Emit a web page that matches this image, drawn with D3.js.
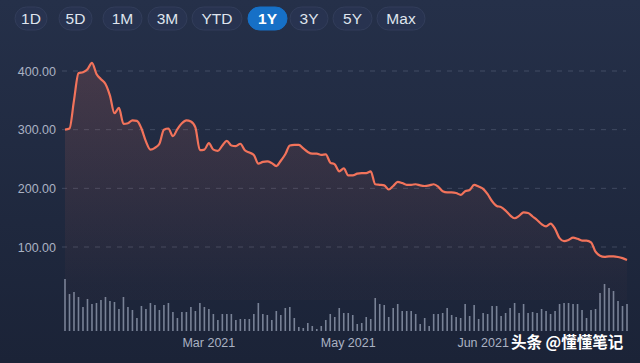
<!DOCTYPE html>
<html>
<head>
<meta charset="utf-8">
<script src="https://cdn.jsdelivr.net/npm/d3@7"></script>
<style>
  html, body { margin: 0; padding: 0; background: #1f283c; }
  svg { display: block; }
</style>
</head>
<body>
<svg id="chart" width="640" height="363"></svg>
<script>
// range buttons across the top
let ranges = ["1D", "5D", "1M", "3M", "YTD", "1Y", "3Y", "5Y", "Max"];
let activeRange = "1Y";

// closing prices, one per bar
let prices = [
  300, 302, 350, 396, 398, 403, 414, 395, 386, 378,
  358, 328, 337, 310, 311, 316, 315, 302, 280, 266,
  269, 276, 300, 302, 289, 301, 311, 316, 314, 304,
  265, 266, 277, 266, 264, 273, 281, 273, 272, 276,
  265, 261, 257, 242, 245, 246, 243, 238, 247, 258,
  273, 274, 274, 268, 262, 259, 259, 257, 258, 244,
  241, 229, 234, 222, 222, 225, 226, 226, 229, 207,
  206, 205, 198, 204, 211, 209, 206, 206, 207, 205,
  204, 205, 207, 203, 195, 193, 193, 192, 189, 195,
  197, 206, 203, 199, 190, 178, 170, 168, 162, 154,
  149, 153, 159, 158, 152, 146, 139, 135, 140, 131,
  115, 110, 112, 116, 114, 111, 111, 108, 92, 85,
  83, 84, 84, 83, 81, 78
];

// traded volume per bar (relative units)
let volumes = [
  52, 37, 39, 34, 24, 32, 27, 28, 31, 34,
  30, 29, 22, 34, 24, 21, 13, 25, 22, 28,
  26, 21, 26, 28, 19, 13, 19, 19, 24, 20,
  28, 24, 22, 17, 11, 17, 17, 17, 11, 12,
  12, 12, 17, 28, 17, 16, 11, 20, 16, 23,
  24, 13, 4, 3, 8, 5, 2, 5, 11, 17,
  14, 23, 18, 18, 16, 7, 8, 14, 12, 33,
  27, 26, 14, 23, 27, 20, 20, 20, 17, 7,
  13, 5, 17, 17, 18, 23, 16, 14, 13, 27,
  15, 26, 12, 18, 17, 25, 25, 15, 18, 23,
  28, 18, 27, 18, 19, 18, 22, 20, 17, 20,
  27, 28, 28, 27, 27, 21, 13, 21, 22, 38,
  47, 43, 40, 30, 25, 27
];

// month labels and the bar they sit under
let tickLabels = ["Mar 2021", "May 2021", "Jun 2021"];
let tickIndex = [32, 63, 93];

let priceTicks = [100, 200, 300, 400];

let svg = d3.select("#chart");

let defs = svg.append("defs");
let bg = defs.append("linearGradient").attr("id", "bg")
  .attr("x1", 0).attr("y1", 0).attr("x2", 0).attr("y2", 1);
bg.append("stop").attr("offset", "0%").attr("stop-color", "#253049");
bg.append("stop").attr("offset", "100%").attr("stop-color", "#1b2337");

let areaGrad = defs.append("linearGradient").attr("id", "areaGrad")
  .attr("gradientUnits", "userSpaceOnUse")
  .attr("x1", 0).attr("y1", 60).attr("x2", 0).attr("y2", 285);
areaGrad.append("stop").attr("offset", "0%").attr("stop-color", "#f0735a").attr("stop-opacity", 0.17);
areaGrad.append("stop").attr("offset", "100%").attr("stop-color", "#f0735a").attr("stop-opacity", 0.02);

svg.append("rect").attr("width", 640).attr("height", 363).attr("fill", "url(#bg)");

// buttons
let btnX = [15, 59, 103, 148, 192, 248, 290, 333, 377];
let btnW = [32, 33, 39, 39, 50, 39, 38, 39, 48];
let btns = svg.append("g").selectAll("g")
  .data(ranges)
  .enter()
  .append("g")
  .attr("transform", (d, i) => `translate(${btnX[i]},7)`);

btns.append("rect")
  .attr("width", (d, i) => btnW[i])
  .attr("height", 23)
  .attr("rx", 11.5)
  .attr("fill", d => d === activeRange ? "#1670c7" : "#283350")
  .attr("stroke", d => d === activeRange ? "#1670c7" : "#323d5a")
  .attr("stroke-width", 1);

btns.append("text")
  .attr("x", (d, i) => btnW[i] / 2)
  .attr("y", 17)
  .attr("text-anchor", "middle")
  .attr("font-family", "Liberation Sans, Arial, sans-serif")
  .attr("font-size", 15.5)
  .attr("font-weight", d => d === activeRange ? "bold" : "normal")
  .attr("fill", d => d === activeRange ? "#ffffff" : "#dfe4ee")
  .text(d => d);

// scales
let x = d3.scaleLinear().domain([0, prices.length - 1]).range([65, 627]);
let y = d3.scaleLinear().domain([100, 400]).range([247, 71]);
let vy = d3.scaleLinear().domain([0, 52]).range([331, 279]);

// grid lines + price labels
let grid = svg.append("g");
grid.selectAll("line")
  .data(priceTicks)
  .enter()
  .append("line")
  .attr("x1", 62).attr("x2", 626)
  .attr("y1", d => y(d)).attr("y2", d => y(d))
  .attr("stroke", "#8a94ab")
  .attr("stroke-opacity", 0.3)
  .attr("stroke-dasharray", "5,6");

grid.selectAll("text")
  .data(priceTicks)
  .enter()
  .append("text")
  .attr("x", 56)
  .attr("y", d => y(d) + 4.5)
  .attr("text-anchor", "end")
  .attr("font-family", "Liberation Sans, Arial, sans-serif")
  .attr("font-size", 12.5)
  .attr("fill", "#aab2c3")
  .text(d => d.toFixed(2));

// volume bars
svg.append("g").selectAll("rect")
  .data(volumes)
  .enter()
  .append("rect")
  .attr("x", (d, i) => x(i) - 0.8)
  .attr("y", d => vy(d))
  .attr("width", 1.6)
  .attr("height", d => vy(0) - vy(d))
  .attr("fill", "#a0a9bd")
  .attr("fill-opacity", 0.7);

// price area + line
let area = d3.area()
  .x((d, i) => x(i))
  .y0(300)
  .y1(d => y(d))
  .curve(d3.curveMonotoneX);

let line = d3.line()
  .x((d, i) => x(i))
  .y(d => y(d))
  .curve(d3.curveMonotoneX);

svg.append("path")
  .datum(prices)
  .attr("d", area)
  .attr("fill", "url(#areaGrad)");

svg.append("path")
  .datum(prices)
  .attr("d", line)
  .attr("fill", "none")
  .attr("stroke", "#f2735b")
  .attr("stroke-width", 2.2)
  .attr("stroke-linejoin", "round");

// month labels
svg.append("g").selectAll("text")
  .data(tickLabels)
  .enter()
  .append("text")
  .attr("x", (d, i) => x(tickIndex[i]))
  .attr("y", 347)
  .attr("text-anchor", "middle")
  .attr("font-family", "Liberation Sans, Arial, sans-serif")
  .attr("font-size", 12.5)
  .attr("fill", "#aab2c3")
  .text(d => d);

// watermark
svg.append("text")
  .attr("x", 511)
  .attr("y", 348)
  .attr("font-family", "Noto Sans CJK SC, sans-serif")
  .attr("font-size", 15.5)
  .attr("font-weight", "bold")
  .attr("fill", "#ffffff")
  .attr("style", "paint-order: stroke")
  .attr("stroke", "#1b2337")
  .attr("stroke-width", 2)
  .text("头条 @懂懂笔记");
</script>
</body>
</html>
